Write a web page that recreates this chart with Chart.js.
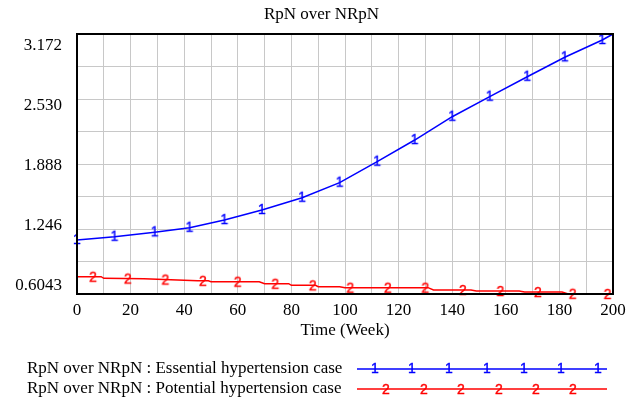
<!DOCTYPE html>
<html><head><meta charset="utf-8">
<script src="https://cdn.jsdelivr.net/npm/chart.js@4"></script>
<style>html,body{margin:0;padding:0;background:#fff;overflow:hidden}#wrap{width:643px;height:407px}</style>
</head><body><div id="wrap"><canvas id="c" width="643" height="407"></canvas></div>
<script>
const chartTitle = 'RpN over NRpN';
const xTitle = 'Time (Week)';
const seriesNames = ['RpN over NRpN : Essential hypertension case', 'RpN over NRpN : Potential hypertension case'];

const blueTimes  = [0, 14, 29, 42, 55, 69, 84, 98, 112, 126, 140, 154, 168, 182, 196, 200];
const blueValues = [1.138, 1.170, 1.214, 1.259, 1.335, 1.434, 1.555, 1.704, 1.911, 2.125, 2.355, 2.553, 2.750, 2.942, 3.113, 3.172];

const redTimes  = [0, 9, 10, 25, 35, 45, 49, 50, 68, 70, 79, 80, 89, 90, 98, 100, 131, 133, 147, 149, 165, 167, 181, 183, 200];
const redValues = [0.775, 0.775, 0.759, 0.755, 0.745, 0.736, 0.735, 0.726, 0.726, 0.706, 0.706, 0.690, 0.690, 0.676, 0.676, 0.667, 0.667, 0.644, 0.644, 0.634, 0.634, 0.624, 0.624, 0.607, 0.605];

const redMarkerTimes  = [6, 19, 33, 47, 60, 74, 88, 102, 116, 130, 144, 158, 172, 185, 198];
const redMarkerValues = [0.775, 0.757, 0.747, 0.735, 0.726, 0.706, 0.690, 0.667, 0.667, 0.667, 0.644, 0.634, 0.624, 0.607, 0.605];

const yMin = 0.6043, yMax = 3.172, yDivisions = 8;
const yTickLabels = ['3.172', '2.530', '1.888', '1.246', '0.6043'];
const xMin = 0, xMax = 200, xGridStep = 10;
const xTickLabels = ['0', '20', '40', '60', '80', '100', '120', '140', '160', '180', '200'];

const BLUE = '#0000ff', RED = '#ff0000', GRID = '#c8c8c8';
const SERIF = '"Liberation Serif", "Times New Roman", serif';

function glyph(ch, color, dy) {
  const c = document.createElement('canvas');
  c.width = 14; c.height = 18;
  const g = c.getContext('2d');
  g.font = '14px "Liberation Sans", Arial, sans-serif';
  g.fillStyle = color; g.strokeStyle = color; g.lineWidth = 0.4;
  g.textAlign = 'center'; g.textBaseline = 'middle';
  g.fillText(ch, 7, 9 + (dy || 0));
  g.strokeText(ch, 7, 9 + (dy || 0));
  return c;
}
const glyph1 = glyph('1', BLUE, 0);
const glyph2 = glyph('2', RED, 1);

const pts = (xs, ys) => xs.map((x, i) => ({x, y: ys[i]}));

const framePlugin = {
  id: 'frame',
  afterDatasetsDraw(chart) {
    const {ctx, chartArea: a} = chart;
    ctx.save();
    ctx.strokeStyle = '#000'; ctx.lineWidth = 2;
    ctx.strokeRect(a.left, a.top, a.right - a.left, a.bottom - a.top);
    ctx.restore();
  },
  afterDraw(chart) {
    const ctx = chart.ctx;
    const rows = [
      {y: 369, color: BLUE, g: glyph1, marks: [375, 412, 449, 487, 524, 561, 598]},
      {y: 389, color: RED, g: glyph2, marks: [386, 424, 461, 499, 536, 573]}
    ];
    ctx.save();
    rows.forEach((r, i) => {
      ctx.font = '17px ' + SERIF;
      ctx.fillStyle = '#000'; ctx.textAlign = 'left'; ctx.textBaseline = 'middle';
      ctx.fillText(seriesNames[i], 27, r.y, 318);
      ctx.strokeStyle = r.color; ctx.lineWidth = 1.5;
      ctx.beginPath(); ctx.moveTo(357, r.y); ctx.lineTo(607, r.y); ctx.stroke();
      r.marks.forEach(mx => ctx.drawImage(r.g, mx - r.g.width / 2, r.y - r.g.height / 2));
    });
    ctx.restore();
  }
};

new Chart(document.getElementById('c'), {
  type: 'scatter',
  data: {
    datasets: [
      {label: seriesNames[0], data: pts(blueTimes, blueValues), showLine: true, borderColor: BLUE, borderWidth: 1.5, clip: false,
       pointStyle: glyph1, pointRadius: ctx => ctx.dataIndex < blueTimes.length - 1 ? 5 : 0, tension: 0},
      {label: seriesNames[1], data: pts(redTimes, redValues), showLine: true, borderColor: RED, borderWidth: 1.5, pointRadius: 0, tension: 0},
      {label: seriesNames[1] + ' markers', data: pts(redMarkerTimes, redMarkerValues), showLine: false, clip: false, pointStyle: glyph2, pointRadius: 5}
    ]
  },
  options: {
    responsive: false, animation: false, devicePixelRatio: 1,
    layout: {padding: {left: 0, right: 0, top: 0, bottom: 66}},
    plugins: {
      legend: {display: false}, tooltip: {enabled: false},
      title: {display: true, text: chartTitle, color: '#000', font: {family: SERIF, size: 17, weight: 'normal'}, padding: {top: 4, bottom: 9.6}}
    },
    scales: {
      x: {
        type: 'linear', position: 'bottom', min: xMin, max: xMax,
        afterBuildTicks: s => { const t = []; for (let v = xMin; v <= xMax; v += xGridStep) t.push({value: v}); s.ticks = t; },
        afterFit: s => { s.height = 47; },
        ticks: {autoSkip: false, maxRotation: 0, padding: 6, color: '#000', font: {family: SERIF, size: 17},
                callback: (v, i) => (i % 2 === 0 ? xTickLabels[i / 2] : '')},
        grid: {color: GRID, lineWidth: 1, drawTicks: false},
        border: {display: false},
        title: {display: true, text: xTitle, color: '#000', font: {family: SERIF, size: 17}, padding: 0}
      },
      y: {
        type: 'linear', position: 'left', min: yMin, max: yMax,
        afterBuildTicks: s => {
          const t = [];
          for (let i = 0; i <= yDivisions; i++) t.push({value: yMin + (yMax - yMin) * i / yDivisions, g: true});
          yTickLabels.forEach((lbl, i) => {
            const frac = 0.0442 + i * 0.231;
            t.push({value: yMax - (yMax - yMin) * frac, lbl});
          });
          s.ticks = t;
        },
        afterFit: s => { s.width = 77; },
        ticks: {autoSkip: false, padding: 15, color: '#000', font: {family: SERIF, size: 17},
                callback: (v, i, ticks) => (ticks[i].lbl !== undefined ? ticks[i].lbl : '')},
        grid: {color: c => (c.tick && c.tick.g ? GRID : 'rgba(0,0,0,0)'), lineWidth: 1, drawTicks: false},
        border: {display: false}
      },
      y2: {
        type: 'linear', position: 'right', min: yMin, max: yMax, display: true,
        afterFit: s => { s.width = 30; },
        ticks: {display: false}, grid: {display: false, drawTicks: false}, border: {display: false}
      }
    }
  },
  plugins: [framePlugin]
});
</script></body></html>
